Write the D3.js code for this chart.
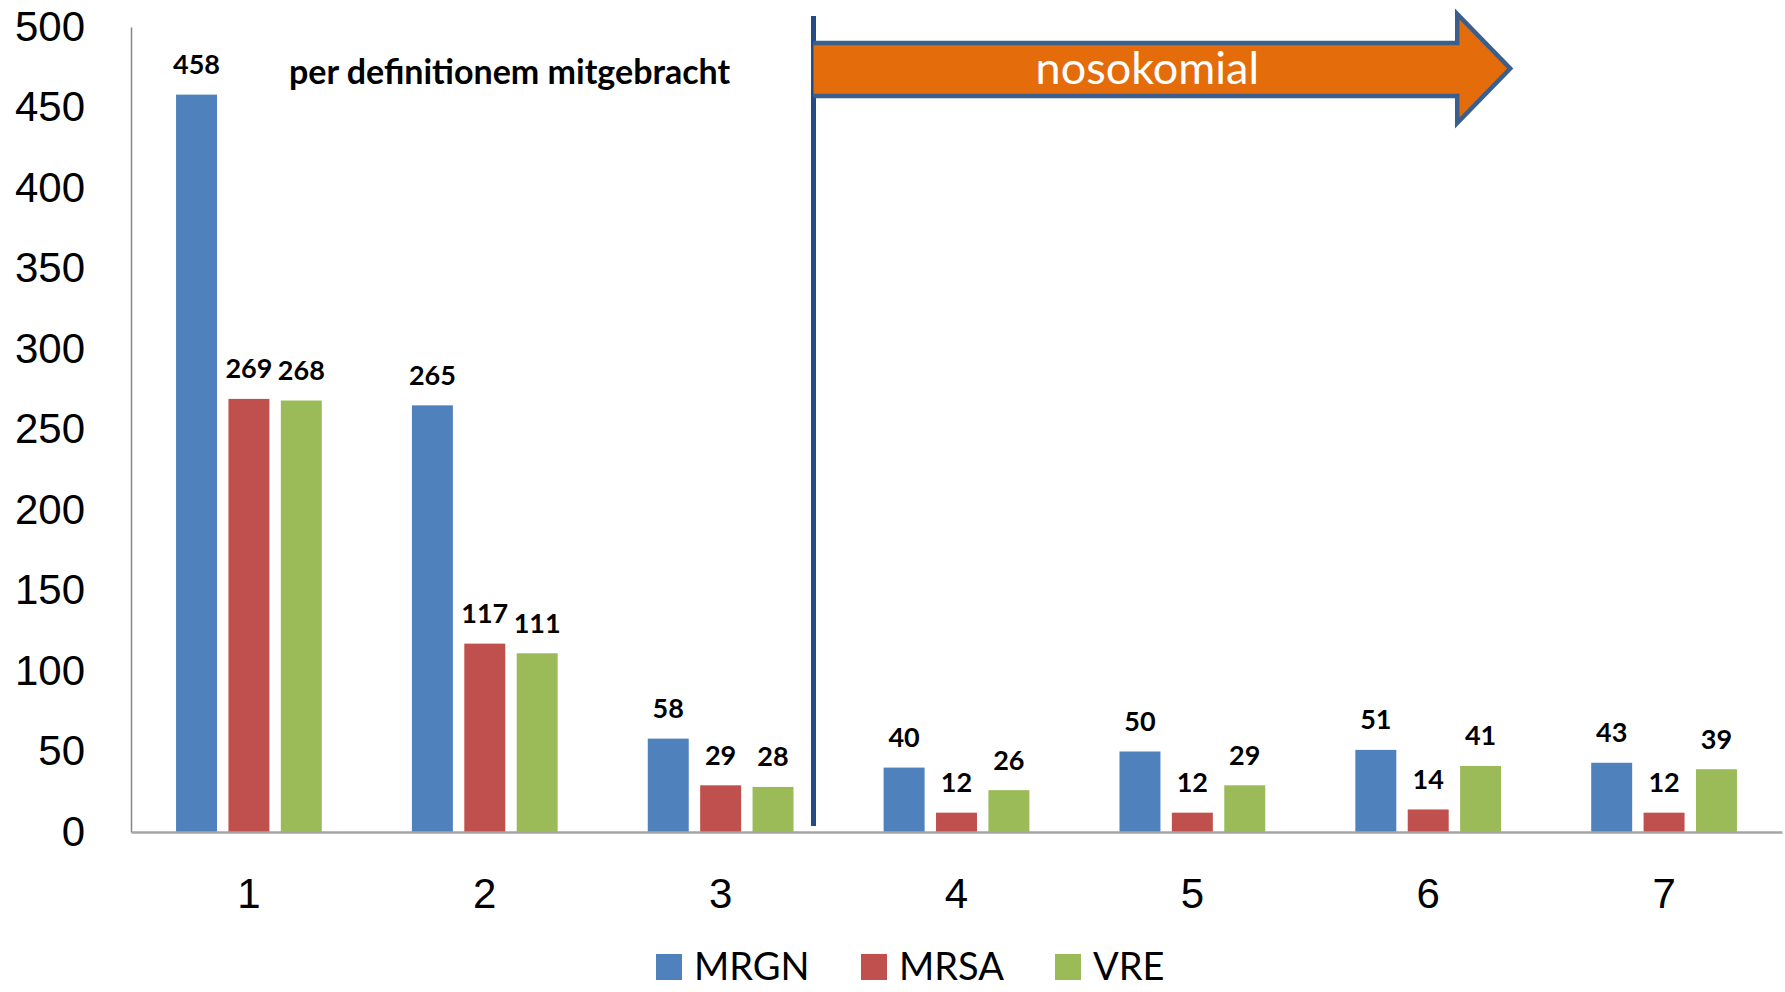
<!DOCTYPE html>
<html>
<head>
<meta charset="utf-8">
<script src="https://cdn.jsdelivr.net/npm/d3@7"></script>
<style>
  body { margin: 0; background: #fff; }
  svg { display: block; font-family: Lato, "Open Sans", sans-serif; }
</style>
</head>
<body>
<div id="chart"></div>
<script>
const categories = ["1", "2", "3", "4", "5", "6", "7"];
const seriesNames = ["MRGN", "MRSA", "VRE"];
const mrgn = [458, 265, 58, 40, 50, 51, 43];
const mrsa = [269, 117, 29, 12, 12, 14, 12];
const vre = [268, 111, 28, 26, 29, 41, 39];
const yTicks = [0, 50, 100, 150, 200, 250, 300, 350, 400, 450, 500];
const colors = {MRGN: "#4F81BD", MRSA: "#C0504D", VRE: "#9BBB59"};

const width = 1785, height = 992;
const margin = {top: 27, right: 3, bottom: 160, left: 131};

const seriesValues = {MRGN: mrgn, MRSA: mrsa, VRE: vre};
const data = categories.map((c, i) => ({
    cat: c,
    values: seriesNames.map(s => ({key: s, value: seriesValues[s][i]}))
}));

const svg = d3.select("#chart")
    .append("svg")
    .attr("width", width)
    .attr("height", height);

let x0 = d3.scaleBand()
    .domain(categories)
    .range([margin.left, width - margin.right])
    .padding(0);

let x1 = d3.scaleBand()
    .domain(seriesNames)
    .range([0, x0.bandwidth()])
    .paddingInner(0.218)
    .paddingOuter(0.86);

let yScale = d3.scaleLinear()
    .domain([0, 500])
    .range([height - margin.bottom, margin.top]);

const center = c => x0(c) + x0.bandwidth() / 2;

// bars
const groups = svg.append("g")
    .selectAll("g")
    .data(data)
    .join("g")
    .attr("transform", d => `translate(${x0(d.cat)},0)`);

groups.selectAll("rect")
    .data(d => d.values)
    .join("rect")
    .attr("x", d => x1(d.key))
    .attr("y", d => yScale(d.value))
    .attr("width", x1.bandwidth())
    .attr("height", d => yScale(0) - yScale(d.value))
    .attr("fill", d => colors[d.key]);

groups.selectAll("text")
    .data(d => d.values)
    .join("text")
    .attr("x", d => x1(d.key) + x1.bandwidth() / 2)
    .attr("y", d => yScale(d.value) - 30)
    .attr("dy", "0.35em")
    .attr("text-anchor", "middle")
    .style("font-size", "27px")
    .style("font-weight", "bold")
    .attr("fill", "#000")
    .text(d => d.value);

// y axis
const yAxis = svg.append("g")
    .attr("transform", `translate(${margin.left},0)`)
    .call(d3.axisLeft(yScale).tickValues(yTicks).tickSize(0).tickPadding(46));
yAxis.select(".domain").attr("stroke", "#868686").attr("stroke-width", 1.5);
yAxis.selectAll("text").style("font-size", "42px").attr("fill", "#000");

// x axis
const xAxis = svg.append("g")
    .attr("transform", `translate(0,${yScale(0)})`)
    .call(d3.axisBottom(x0).tickSize(0).tickPadding(46));
xAxis.select(".domain").attr("stroke", "#A6A6A6").attr("stroke-width", 2.5);
xAxis.selectAll("text").style("font-size", "42px").attr("fill", "#000");

// annotation: separator line and arrow
const sepX = center("4") - 143;
const arrowEnd = center("6") + 82;
svg.append("line")
    .attr("x1", sepX).attr("x2", sepX)
    .attr("y1", 16).attr("y2", yScale(0) - 6)
    .attr("stroke", "#244C84")
    .attr("stroke-width", 5);

const bodyTop = 43, bodyBot = 96, headTop = 14, headBot = 123, headX = arrowEnd - 53;
const tipY = (headTop + headBot) / 2;
svg.append("path")
    .attr("d", `M${sepX},${bodyTop} L${headX},${bodyTop} L${headX},${headTop} L${arrowEnd},${tipY} L${headX},${headBot} L${headX},${bodyBot} L${sepX},${bodyBot}`)
    .attr("fill", "#E46C0A")
    .attr("stroke", "#3B5F8D")
    .attr("stroke-width", 4.5);

svg.append("text")
    .attr("x", (sepX + headX) / 2 + 12)
    .attr("y", tipY)
    .attr("dy", "0.35em")
    .attr("text-anchor", "middle")
    .attr("fill", "#fff")
    .style("font-size", "45px")
    .text("nosokomial");

svg.append("text")
    .attr("x", 289)
    .attr("y", 72)
    .attr("dy", "0.35em")
    .style("font-size", "34px")
    .style("font-weight", "bold")
    .attr("fill", "#000")
    .text("per definitionem mitgebracht");

// legend
const legendX = [656, 861, 1055];
const legend = svg.append("g")
    .selectAll("g")
    .data(seriesNames)
    .join("g")
    .attr("transform", (d, i) => `translate(${legendX[i]},954)`);
legend.append("rect")
    .attr("width", 26).attr("height", 26)
    .attr("fill", d => colors[d]);
legend.append("text")
    .attr("x", 38)
    .attr("y", 13)
    .attr("dy", "0.35em")
    .style("font-size", "38px")
    .attr("fill", "#000")
    .text(d => d);
</script>
</body>
</html>
